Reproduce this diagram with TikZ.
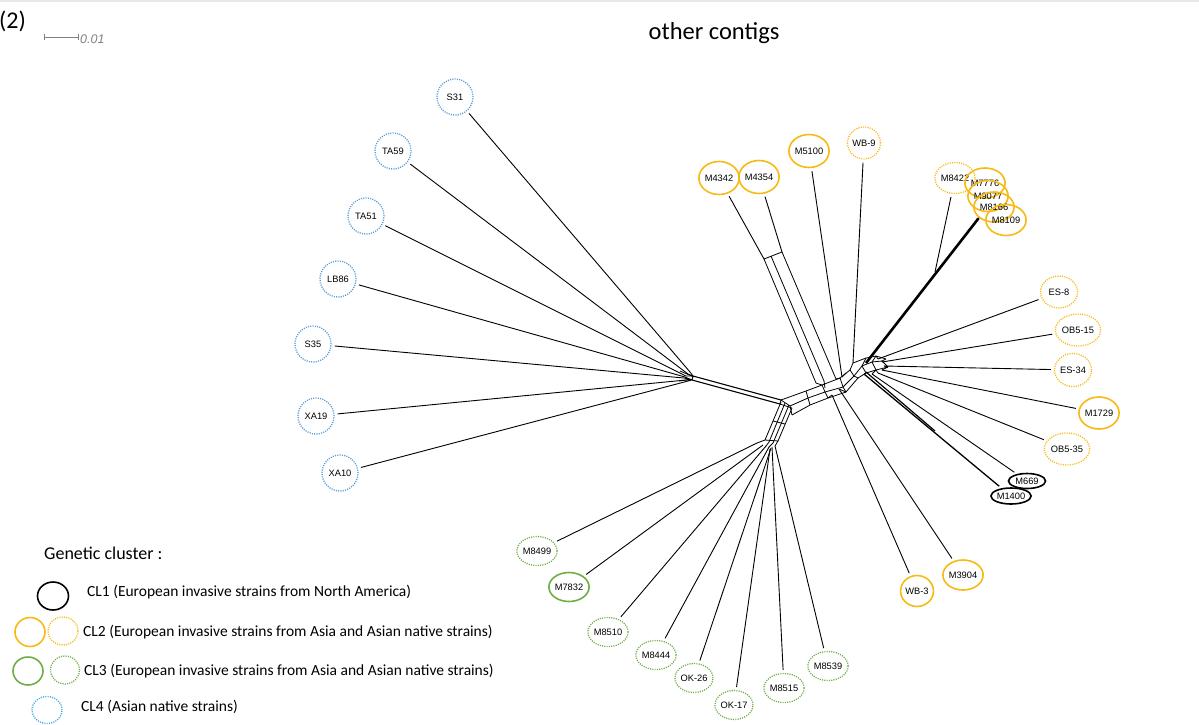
\documentclass[tikz,border=0pt]{standalone}
\usepackage{fontspec}
\setmainfont{Carlito}
\newfontfamily\leaffont{Liberation Sans}
\usetikzlibrary{shapes.geometric}
\definecolor{cltwo}{RGB}{247,186,20}
\definecolor{clthree}{RGB}{112,173,71}
\definecolor{clfour}{RGB}{91,155,213}
\definecolor{clfourleg}{RGB}{60,170,230}
\begin{document}
\begin{tikzpicture}[x=1pt,y=-1pt,
  leaf/.style={ellipse, inner sep=0pt, font=\leaffont\fontsize{9.3}{10}\selectfont},
  solleaf/.style={leaf, line width=1.6pt},
  dotleaf/.style={leaf, line width=1.3pt, dash pattern=on 1.1pt off 1.2pt},
  k1s/.style={solleaf, draw=black},
  o2s/.style={solleaf, draw=cltwo},
  o2d/.style={dotleaf, draw=cltwo},
  g3s/.style={solleaf, draw=clthree},
  g3d/.style={dotleaf, draw=clthree},
  b4d/.style={dotleaf, draw=clfour},
  b4leg/.style={dotleaf, draw=clfourleg},
  sz/.style n args={2}{minimum width=#1, minimum height=#2},
  edge/.style={line width=0.9pt, black, shorten <=3pt},
  net/.style={line width=0.8pt, black},
  thickedge/.style={line width=2.6pt, black},
  legtext/.style={anchor=west, inner sep=0pt, font=\fontsize{15.5}{17}\selectfont},
]
\useasboundingbox (0,0) rectangle (1199,724);
\fill[gray!18] (0,0) rectangle (1199,2);

% header
\node[anchor=west, inner sep=0pt, font=\fontsize{24}{26}\selectfont] (num) at (-1,21) {(2)};
\coordinate (sb1) at (44,37);
\coordinate (sb2) at (78,37);
\draw[gray, line width=0.8pt] (sb1) -- (sb2);
\draw[gray, line width=0.8pt] ([yshift=-3pt]sb1) -- ([yshift=3pt]sb1);
\draw[gray, line width=0.8pt] ([yshift=-3pt]sb2) -- ([yshift=3pt]sb2);
\node[anchor=west, inner sep=0pt, text=gray, font=\leaffont\itshape\fontsize{12.5}{13}\selectfont] (sbl) at (80,39) {0.01};
\node[font=\fontsize{24.5}{26}\selectfont] (title) at (714,33) {other contigs};

% ---------- leaves ----------
% CL4 (left)
\node[b4d, sz={36}{36}] (S31) at (455,97) {S31};
\node[b4d, sz={36}{36}] (TA59) at (393,151) {TA59};
\node[b4d, sz={36}{36}] (TA51) at (366,216) {TA51};
\node[b4d, sz={36}{36}] (LB86) at (338,279) {LB86};
\node[b4d, sz={36}{36}] (S35) at (313,344) {S35};
\node[b4d, sz={36}{36}] (XA19) at (316,416) {XA19};
\node[b4d, sz={36}{36}] (XA10) at (340,473) {XA10};
% top
\node[o2s, sz={33}{33}] (M4342) at (719,178) {M4342};
\node[o2s, sz={33}{33}] (M4354) at (759,177) {M4354};
\node[o2s, sz={34}{33}] (M5100) at (809,151) {M5100};
\node[o2d, sz={32}{32}] (WB9) at (864,143) {WB-9};
\node[o2d, sz={38}{31}] (M8422) at (955,178) {M8422};
\node[o2s, sz={36}{30}] (M7776) at (985,183) {M7776};
\node[o2s, sz={38}{31}] (M9077) at (988,196) {M9077};
\node[o2s, sz={38}{30}] (M8166) at (994,207) {M8166};
\node[o2s, sz={38}{31}] (M8109) at (1006,220) {M8109};
% right
\node[o2d, sz={37}{32}] (ES8) at (1059,292) {ES-8};
\node[o2d, sz={38}{32}] (OB15) at (1078,330) {OB5-15};
\node[o2d, sz={37}{33}] (ES34) at (1073,370) {ES-34};
\node[o2s, sz={38}{32}] (M1729) at (1099,413) {M1729};
\node[o2d, sz={34}{32}] (OB35) at (1067,449) {OB5-35};
\node[k1s, sz={37}{15}] (M669) at (1027,481) {M669};
\node[k1s, sz={38}{16}] (M1400) at (1011,496) {M1400};
\node[o2s, sz={32}{30}] (M3904) at (963,575) {M3904};
\node[o2s, sz={32}{31}] (WB3) at (917,591) {WB-3};
% bottom (CL3)
\node[g3d, sz={32}{29}] (M8499) at (537,551) {M8499};
\node[g3s, sz={31}{29}] (M7832) at (569,587) {M7832};
\node[g3d, sz={32}{29}] (M8510) at (608,632) {M8510};
\node[g3d, sz={32}{29}] (M8444) at (656,655) {M8444};
\node[g3d, sz={32}{29}] (OK26) at (694,678) {OK-26};
\node[g3d, sz={32}{29}] (OK17) at (734,705) {OK-17};
\node[g3d, sz={32}{29}] (M8515) at (784,688) {M8515};
\node[g3d, sz={32}{29}] (M8539) at (828,666) {M8539};

% ---------- internal coordinates ----------
\coordinate (eS31) at (690,372);
\coordinate (eTA59) at (688,374);
\coordinate (eTA51) at (686,376);
\coordinate (eLB86) at (685,377);
\coordinate (eS35) at (684,378);
\coordinate (eXA19) at (686,380);
\coordinate (eXA10) at (688,381);
\coordinate (hL1) at (693,376);
\coordinate (hL2) at (692,380);
\coordinate (cA) at (781,400);
\coordinate (cB) at (780,404);

\coordinate (x1) at (764,259);
\coordinate (x2) at (771,256);
\coordinate (x3) at (782,252);
\coordinate (y1) at (816,383);
\coordinate (y2) at (824,381);
\coordinate (y3) at (836,379);
\coordinate (eM5100) at (842,377);
\coordinate (eWB9) at (853,363);

\coordinate (tdot) at (978,219);
\coordinate (tj) at (935,272);
\coordinate (tR) at (866,363);

\coordinate (eES8) at (878,359);
\coordinate (eOB15) at (882,362);
\coordinate (eES34) at (884,366);
\coordinate (eM1729) at (882,370);
\coordinate (eOB35) at (878,373);
\coordinate (eM669) at (872,374);
\coordinate (eM1400) at (864,374);
\coordinate (eM3904) at (839,389);
\coordinate (eWB3) at (832,395);

\coordinate (eM8499) at (757,443);
\coordinate (eM7832) at (763,445);
\coordinate (eM8510) at (766,446);
\coordinate (eM8444) at (769,447);
\coordinate (eOK26) at (771,448);
\coordinate (eOK17) at (770,449);
\coordinate (eM8515) at (772,447);
\coordinate (eM8539) at (775,446);

% ---------- leaf edges ----------
\foreach \n in {S31,TA59,TA51,LB86,S35,XA19,XA10,M5100,WB9,ES8,OB15,ES34,M1729,OB35,M669,M3904,WB3,M8499,M7832,M8510,M8444,OK26,OK17,M8515,M8539}
  \draw[edge] (\n) -- (e\n);
\draw[edge, line width=1.3pt] (M1400) -- (eM1400);
\draw[net, line width=1.2pt] (866,372) -- (935,431);
\draw[edge] (M4342) -- (x1);
\draw[edge] (M4354) -- (x3);
\draw[edge] (M8422) -- (tj);
\fill (tdot) circle (1.6pt);
\draw[thickedge] (tdot) -- (tR);

% ---------- network core ----------
% left fan hub
\draw[net] (eS31) -- (hL1) (eTA59) -- (hL1) (eTA51) -- (hL1) (eLB86) -- (hL2)
  (eS35) -- (hL2) (eXA19) -- (hL2) (eXA10) -- (hL2) (hL1) -- (hL2);
\draw[net] (680,371) -- (694,377) (679,381) -- (693,379);
\draw[net, line width=1.1pt] (hL1) -- (cA) (hL2) -- (cB);
\draw[net] (cA) -- (cB);
% top box
\draw[net] (x1) -- (x3);
\draw[net] (x1) -- (y1) (x2) -- (y2) (x3) -- (y3);
% lower band
\draw[net] (781,402) -- (765,440) (785,403) -- (769,442) (789,405) -- (773,443) (792,408) -- (778,441);
\draw[net] (cB) -- (792,408) (765,440) -- (778,441) (773,421) -- (785,424);
\draw[net] (765,440) -- (eM8499) (769,442) -- (eM8510) (773,443) -- (eM8444) (778,441) -- (eM8539);
% right band (ladder)
\draw[net] (cA) -- (806,391) -- (822,385) -- (840,378) -- (850,370);
\draw[net] (790,406) -- (808,398) -- (825,392) -- (843,387) -- (854,376);
\draw[net] (792,415) -- (810,405) -- (828,398) -- (846,392) -- (858,378);
\draw[net] (cA) -- (790,406) -- (792,415);
\draw[net] (806,391) -- (808,398) -- (810,405);
\draw[net] (822,385) -- (825,392) -- (828,398);
\draw[net] (840,378) -- (843,387) -- (846,392);
\draw[net] (850,370) -- (854,376) -- (858,378);
\draw[net] (y1) -- (822,385) (y2) -- (825,388) (y3) -- (840,378) (eM5100) -- (846,373);
\draw[net] (eWB3) -- (828,398) (eM3904) -- (846,392);
% right hub mesh
\draw[net] (850,370) -- (853,363) -- (866,358) -- (876,356) -- (886,359);
\draw[net] (858,378) -- (866,373) -- (876,370) -- (888,367);
\draw[net] (854,376) -- (862,366) -- (872,362) -- (882,361);
\draw[net] (866,358) -- (862,366) -- (866,373);
\draw[net] (876,356) -- (872,362) -- (876,370);
\draw[net] (886,359) -- (882,361) -- (888,367);
\draw[net] (eWB9) -- (853,363);
\draw[net] (eES8) -- (876,356) (eOB15) -- (882,361) (eES34) -- (888,367) (eM1729) -- (888,367) (eOB35) -- (876,370) (eM669) -- (876,370) (eM1400) -- (866,373);

% ---------- legend ----------
\node[anchor=west, inner sep=0pt, font=\fontsize{18}{20}\selectfont] (gc) at (44,553) {Genetic cluster :};
\node[k1s, sz={31}{28}] (lg1) at (53,596) {};
\node[o2s, sz={30}{29}] (lg2a) at (30,632) {};
\node[o2d, sz={30}{28}] (lg2b) at (63,631) {};
\node[g3s, sz={30}{28}] (lg3a) at (28,671) {};
\node[g3d, sz={29}{28}] (lg3b) at (65,670) {};
\node[b4leg, sz={30}{27}] (lg4) at (47,710) {};
\node[legtext] (t1) at (87,592) {CL1 (European invasive strains from North America)};
\node[legtext] (t2) at (83,632) {CL2 (European invasive strains from Asia and Asian native strains)};
\node[legtext] (t3) at (84,671) {CL3 (European invasive strains from Asia and Asian native strains)};
\node[legtext] (t4) at (81,707) {CL4 (Asian native strains)};
\end{tikzpicture}
\end{document}
